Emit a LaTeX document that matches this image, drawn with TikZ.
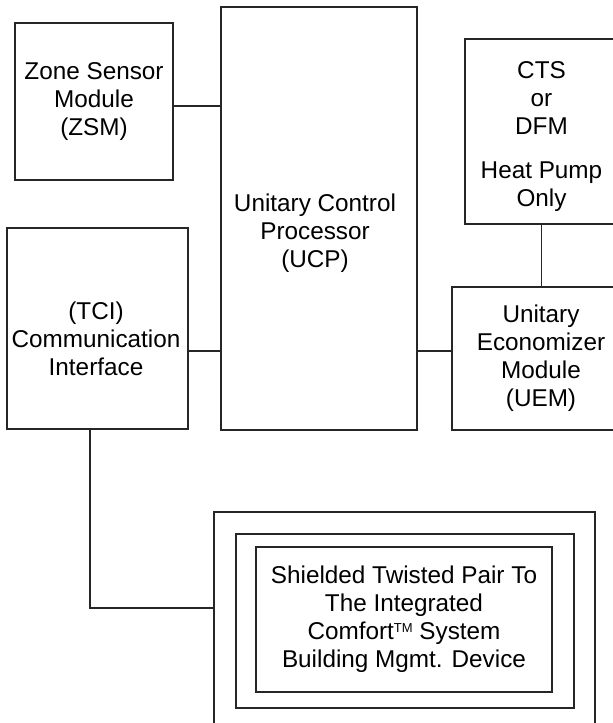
\documentclass[tikz,border=0pt]{standalone}
\usepackage{fontspec}
\setmainfont{Liberation Sans}
\begin{document}
\begin{tikzpicture}[x=1pt,y=-1pt,
  box/.style={draw=black!85,line width=1.1pt,inner sep=0pt,align=center,
    font=\fontsize{24.3}{28}\selectfont},
  lbl/.style={inner sep=0pt,align=center,font=\fontsize{24.3}{28}\selectfont},
  wire/.style={draw=black!85,line width=1.1pt}]
\useasboundingbox (0,0) rectangle (613,723);
\clip (0,0) rectangle (613,723);
\fill[white] (0,0) rectangle (613,723);
% boxes
\node[box,minimum width=158pt,minimum height=157pt] (zsm) at (94,101.5) {Zone Sensor\\Module\\(ZSM)};
\node[box,minimum width=196pt,minimum height=423pt] (ucp) at (319,218.5) {};
\node[lbl] (ucpt) at (315,233.5) {Unitary Control\\Processor\\(UCP)};
\node[box,minimum width=153pt,minimum height=185pt] (cts) at (541.5,131.5) {};
\node[lbl] (ctst) at (541.5,136.5) {CTS\\or\\DFM\\[16pt]Heat Pump\\Only};
\node[box,minimum width=178pt,minimum height=143pt] (uem) at (541,358.5) {Unitary\\Economizer\\Module\\(UEM)};
\node[box,minimum width=181pt,minimum height=201pt] (tci) at (97.5,328.5) {};
\node[lbl] (tcit) at (96,338.5) {(TCI)\\Communication\\Interface};
\node[box,minimum width=381pt,minimum height=218pt] (outer) at (404.5,621) {};
\node[box,minimum width=338pt,minimum height=174pt] (middle) at (405,621) {};
\node[box,minimum width=296pt,minimum height=145pt] (inner) at (404,619.5)
  {Shielded Twisted Pair To\\The Integrated\\Comfort{\fontsize{13}{13}\selectfont\raisebox{7pt}{TM}} System\\Building Mgmt. Device};
% connectors
\coordinate (bend) at (90,608);
\draw[wire] (zsm.east |- 0,106) -- (ucp.west |- 0,106);
\draw[wire] (tci.east |- 0,351) -- (ucp.west |- 0,351);
\draw[wire] (ucp.east |- 0,351) -- (uem.west |- 0,351);
\draw[wire] (cts.south) -- (uem.north -| cts.south);
\draw[wire] (tci.south -| bend) -- (bend) -- (outer.west |- bend);
\end{tikzpicture}
\end{document}
